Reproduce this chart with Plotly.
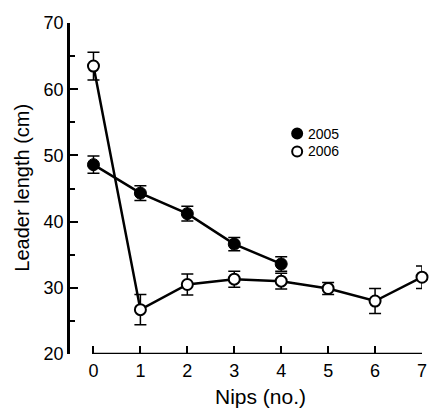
import plotly.graph_objects as go

nips_2005 = [0, 1, 2, 3, 4]
len_2005 = [48.6, 44.3, 41.2, 36.6, 33.6]
err_2005 = [1.3, 1.1, 1.1, 1.0, 1.1]

nips_2006 = [0, 1, 2, 3, 4, 5, 6, 7]
len_2006 = [63.5, 26.7, 30.5, 31.3, 31.0, 29.9, 28.0, 31.6]
err_2006 = [2.1, 2.3, 1.6, 1.2, 1.2, 0.9, 1.9, 1.7]

x_ticks = [0, 1, 2, 3, 4, 5, 6, 7]
y_ticks = [20, 30, 40, 50, 60, 70]
legend_labels = ["2005", "2006"]

FONT = "Liberation Sans, Arial, sans-serif"

fig = go.Figure()

fig.add_trace(go.Scatter(
    x=nips_2005, y=len_2005, mode="lines+markers",
    line=dict(color="black", width=2.5),
    marker=dict(color="black", size=12, line=dict(color="black", width=1)),
    error_y=dict(type="data", array=err_2005, color="black", thickness=1.5, width=6),
    cliponaxis=False, showlegend=False,
))
fig.add_trace(go.Scatter(
    x=nips_2006, y=len_2006, mode="lines+markers",
    line=dict(color="black", width=2.5),
    marker=dict(color="white", size=11, line=dict(color="black", width=2)),
    error_y=dict(type="data", array=err_2006, color="black", thickness=1.5, width=6),
    cliponaxis=False, showlegend=False,
))

# x axis line (detached from y axis)
shapes = [dict(type="line", xref="x", yref="y", x0=x_ticks[0], x1=x_ticks[-1], y0=20, y1=20,
               line=dict(color="black", width=2.5))]

# legend
leg_x = 4.34
leg_y = [53.3, 50.6]
for i, lab in enumerate(legend_labels):
    shapes.append(dict(type="circle", xref="x", yref="y", xsizemode="pixel", ysizemode="pixel",
                       xanchor=leg_x, yanchor=leg_y[i], x0=-5, x1=5, y0=-5, y1=5,
                       fillcolor="black" if i == 0 else "white",
                       line=dict(color="black", width=2)))

annotations = []
for i, lab in enumerate(legend_labels):
    annotations.append(dict(x=4.53, y=leg_y[i], xref="x", yref="y", text=lab, showarrow=False,
                            xanchor="left", yanchor="middle",
                            font=dict(family=FONT, size=14, color="black")))
annotations.append(dict(x=(263 - 70) / 357, y=-(396 - 354) / 331, xref="paper", yref="paper",
                        text="Nips (no.)", showarrow=False, xanchor="center", yanchor="middle",
                        font=dict(family=FONT, size=21, color="black")))
annotations.append(dict(x=-(70 - 21) / 357, y=1 - (188 - 23) / 331, xref="paper", yref="paper",
                        text="Leader length (cm)", showarrow=False, textangle=-90,
                        xanchor="center", yanchor="middle",
                        font=dict(family=FONT, size=20, color="black")))

fig.update_layout(
    width=434, height=410,
    margin=dict(l=70, r=7, t=23, b=56),
    plot_bgcolor="white", paper_bgcolor="white",
    shapes=shapes, annotations=annotations,
    font=dict(family=FONT, color="black"),
)
fig.update_xaxes(
    range=[-0.5, 7], tickvals=x_ticks, ticktext=[str(v) for v in x_ticks],
    ticks="inside", ticklen=8, tickwidth=2, tickcolor="black",
    showline=False, showgrid=False, zeroline=False, ticklabelstandoff=4,
    tickfont=dict(family=FONT, size=18, color="black"),
)
fig.update_yaxes(
    range=[20, 70], tickvals=y_ticks,
    ticks="inside", ticklen=8, tickwidth=2, tickcolor="black",
    showline=True, linewidth=2.5, linecolor="black",
    showgrid=False, zeroline=False,
    minor=dict(tickvals=[25, 35, 45, 55, 65], ticks="inside", ticklen=5, tickwidth=2, tickcolor="black"),
    tickfont=dict(family=FONT, size=18, color="black"),
)

fig.write_html("out.html")
